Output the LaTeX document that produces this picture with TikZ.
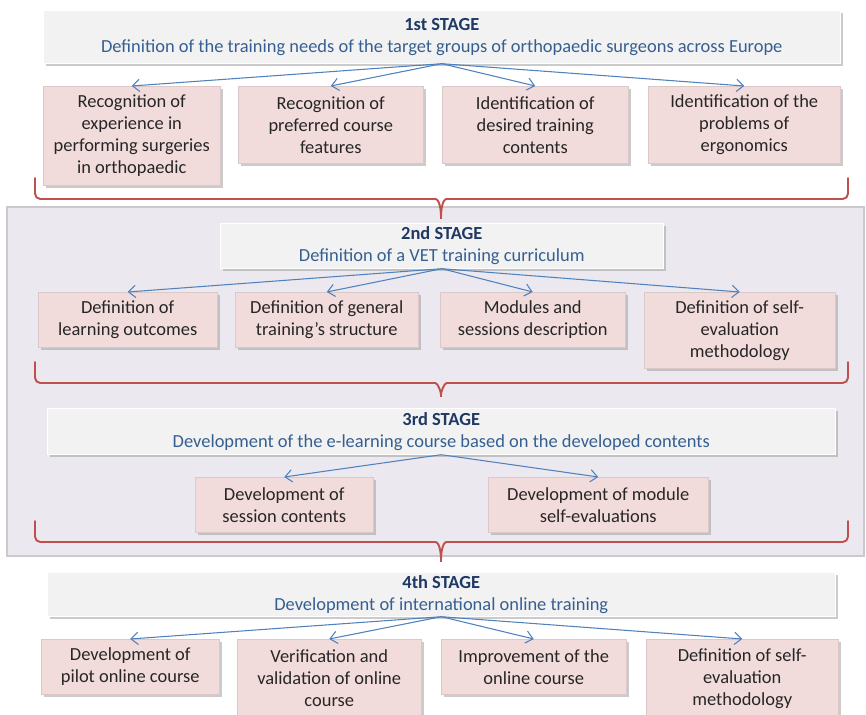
\documentclass[tikz,border=0pt]{standalone}
\usepackage{fontspec}
\setmainfont{Carlito}
\usetikzlibrary{arrows.meta}
\usetikzlibrary{shadows}
\definecolor{taskpink}{HTML}{F2DCDB}
\definecolor{headgray}{HTML}{F2F2F2}
\definecolor{titlenavy}{HTML}{1F3864}
\definecolor{subblue}{HTML}{365F91}
\definecolor{arrowblue}{HTML}{4F81BD}
\definecolor{bracered}{HTML}{C0504D}
\definecolor{panelgray}{HTML}{EBE9EF}
\newcommand{\stagebrace}[3]{\draw[bracered, line width=1.1pt, line cap=round, rounded corners=3pt]
  (35,#1) -- (35,#2) -- (430,#2) to[out=0,in=90] (441,#3) to[out=90,in=180] (452,#2) -- (848,#2) -- (848,#1);}

\begin{document}
\begin{tikzpicture}[x=0.02cm, y=-0.02cm,
    task/.style={fill=taskpink, draw=taskpink!80!gray, line width=0.3pt, anchor=north west, inner sep=0pt,
      align=center, text=black!85, font=\fontsize{10.5}{12.5}\selectfont,
      drop shadow={shadow xshift=0.05cm, shadow yshift=-0.05cm, fill=black!40, opacity=0.5}},
    head/.style={fill=headgray, draw=white, anchor=north west, inner sep=0pt, align=center,
      text=subblue, font=\fontsize{10.5}{12.5}\selectfont,
      drop shadow={shadow xshift=0.05cm, shadow yshift=-0.05cm, fill=black!40, opacity=0.5}},
    flow/.style={arrowblue, line width=0.6pt, -{Straight Barb[length=4pt,width=7pt]}}]
  \clip (0,0) rectangle (866,715);
  \fill[white] (0,0) rectangle (866,715);

  \draw[panelgray!70!gray, line width=1pt, fill=panelgray] (7,207) rectangle (864,556);

  \stagebrace{178}{199}{222}
  \stagebrace{362}{383}{400}
  \stagebrace{521}{542}{565}

  \node[head, minimum width=15.94cm, minimum height=1.06cm] (h1) at (43,10)
    {\textcolor{titlenavy}{\textbf{1st STAGE}}\\Definition of the training needs of the target groups of orthopaedic surgeons across Europe};
  \node[task, minimum width=3.54cm, minimum height=1.98cm] (a1) at (43,86)
    {Recognition of\\experience in\\performing surgeries\\in orthopaedic};
  \node[task, minimum width=3.7cm, minimum height=1.54cm] (a2) at (238,86)
    {Recognition of\\preferred course\\features};
  \node[task, minimum width=3.72cm, minimum height=1.54cm] (a3) at (442,86)
    {Identification of\\desired training\\contents};
  \node[task, minimum width=3.84cm, minimum height=1.54cm] (a4) at (648,86)
    {Identification of the\\problems of\\ergonomics};

  \node[head, minimum width=8.86cm, minimum height=0.9cm] (h2) at (220,223)
    {\textcolor{titlenavy}{\textbf{2nd STAGE}}\\Definition of a VET training curriculum};
  \node[task, minimum width=3.58cm, minimum height=1.1cm] (b1) at (38,292)
    {Definition of\\learning outcomes};
  \node[task, minimum width=3.66cm, minimum height=1.1cm] (b2) at (235,292)
    {Definition of general\\training’s structure};
  \node[task, minimum width=3.7cm, minimum height=1.1cm] (b3) at (440,292)
    {Modules and\\sessions description};
  \node[task, minimum width=3.82cm, minimum height=1.52cm] (b4) at (644,292)
    {Definition of self-\\evaluation\\methodology};

  \node[head, minimum width=15.76cm, minimum height=0.92cm] (h3) at (47,408)
    {\textcolor{titlenavy}{\textbf{3rd STAGE}}\\Development of the e-learning course based on the developed contents};
  \node[task, minimum width=3.56cm, minimum height=1.1cm] (c1) at (195,477)
    {Development of\\session contents};
  \node[task, minimum width=4.4cm, minimum height=1.1cm] (c2) at (488,477)
    {Development of module\\self-evaluations};

  \node[head, minimum width=15.76cm, minimum height=0.88cm] (h4) at (47,572)
    {\textcolor{titlenavy}{\textbf{4th STAGE}}\\Development of international online training};
  \node[task, minimum width=3.56cm, minimum height=1.1cm] (d1) at (41,639)
    {Development of\\pilot online course};
  \node[task, minimum width=3.68cm, minimum height=1.56cm] (d2) at (237,639)
    {Verification and\\validation of online\\course};
  \node[task, minimum width=3.7cm, minimum height=1.1cm] (d3) at (441,639)
    {Improvement of the\\online course};
  \node[task, minimum width=3.84cm, minimum height=1.56cm] (d4) at (646,639)
    {Definition of self-\\evaluation\\methodology};

  \foreach \h/\t in {h1/a1,h1/a2,h1/a3,h1/a4,h2/b1,h2/b2,h2/b3,h2/b4,h3/c1,h3/c2,h4/d1,h4/d2,h4/d3,h4/d4}
    \draw[flow] (\h.south) -- (\t.north);
\end{tikzpicture}
\end{document}
